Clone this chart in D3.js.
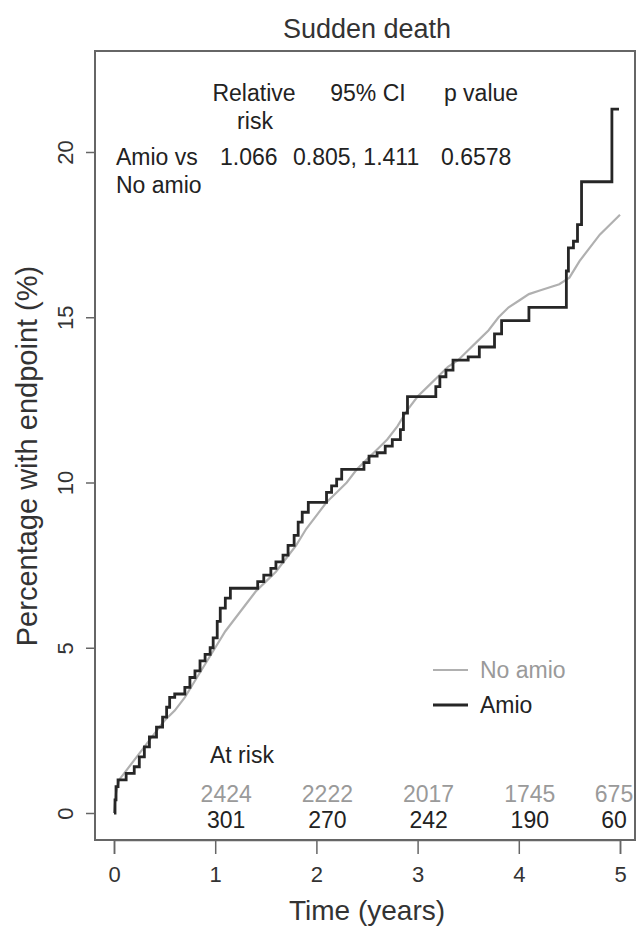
<!DOCTYPE html>
<html>
<head>
<meta charset="utf-8">
<style>
  body { margin: 0; background: #fff; }
  svg text { font-family: "Liberation Sans", Arial, sans-serif; }
</style>
<script src="https://d3js.org/d3.v7.min.js"></script>
</head>
<body>
<script>
// ---- data ----
const timeTicks = [0, 1, 2, 3, 4, 5];
const pctTicks = [0, 5, 10, 15, 20];

// No amio (grey), cumulative % with endpoint
const noAmioTime = [0, 0.02, 0.05, 0.1, 0.2, 0.3, 0.4, 0.5, 0.6, 0.7, 0.8, 0.9, 1.0, 1.1, 1.2, 1.3, 1.4, 1.5, 1.6, 1.7, 1.8, 1.9, 2.0,
  2.1, 2.2, 2.3, 2.4, 2.5, 2.6, 2.7, 2.8, 2.9, 3.0, 3.1, 3.2, 3.3, 3.4, 3.5, 3.6, 3.7, 3.8, 3.9, 4.0,
  4.1, 4.2, 4.3, 4.4, 4.5, 4.6, 4.7, 4.8, 4.9, 5.0];
const noAmioPct = [0, 0.6, 1.0, 1.2, 1.6, 2.0, 2.4, 2.8, 3.1, 3.5, 4.0, 4.5, 5.0, 5.5, 5.9, 6.3, 6.7, 7.0, 7.3, 7.7, 8.1, 8.6, 9.0,
  9.4, 9.7, 10.0, 10.4, 10.7, 11.0, 11.3, 11.7, 12.2, 12.6, 12.9, 13.2, 13.5, 13.7, 14.0, 14.3, 14.6, 15.0, 15.3, 15.5,
  15.7, 15.8, 15.9, 16.0, 16.2, 16.7, 17.1, 17.5, 17.8, 18.1];

// Amio (black)
const amioTime = [0, 0.01, 0.02, 0.04, 0.12, 0.2, 0.25, 0.3, 0.35, 0.42, 0.48, 0.52, 0.55, 0.6, 0.7, 0.75, 0.8, 0.85, 0.9, 0.95,
  0.98, 1.02, 1.05, 1.1, 1.15, 1.42, 1.48, 1.55, 1.6, 1.67, 1.72, 1.78, 1.82, 1.86, 1.92, 2.1, 2.15, 2.2, 2.25,
  2.47, 2.52, 2.6, 2.68, 2.75, 2.83, 2.86, 2.9, 3.18, 3.22, 3.28, 3.35, 3.5, 3.61, 3.76, 3.83, 4.1, 4.47, 4.49,
  4.54, 4.58, 4.62, 4.92, 4.99];
const amioPct = [0, 0.4, 0.8, 1.0, 1.2, 1.4, 1.7, 2.0, 2.3, 2.6, 2.9, 3.2, 3.5, 3.6, 3.8, 4.1, 4.3, 4.6, 4.8, 5.0,
  5.3, 5.8, 6.2, 6.5, 6.8, 7.0, 7.2, 7.4, 7.6, 7.8, 8.1, 8.4, 8.8, 9.1, 9.4, 9.7, 9.9, 10.1, 10.4,
  10.6, 10.8, 10.9, 11.1, 11.3, 11.6, 12.1, 12.6, 12.9, 13.2, 13.4, 13.7, 13.8, 14.1, 14.5, 14.9, 15.3, 16.4, 17.1,
  17.3, 17.8, 19.1, 21.3, 21.3];

const atRiskTime = [1, 2, 3, 4, 5];
const atRiskNoAmio = [2424, 2222, 2017, 1745, 675];
const atRiskAmio = [301, 270, 242, 190, 60];

const tableHead = ["Relative", "95% CI", "p value"];
const tableRow = ["Amio vs", "1.066", "0.805, 1.411", "0.6578"];

// ---- layout ----
const W = 638, H = 929;
const box = {left: 95, right: 635, top: 51, bottom: 840};
const x = d3.scaleLinear().domain([0, 5]).range([114, 620]);
const y = d3.scaleLinear().domain([0, 20]).range([813, 152]);
const grey = "#b0b0b0", dark = "#262626";

const svg = d3.select("body").append("svg")
  .attr("width", W).attr("height", H);

function label(parent, s, px, py, size, opts = {}) {
  return parent.append("text")
    .attr("x", px).attr("y", py)
    .attr("text-anchor", opts.anchor || "start")
    .attr("font-size", size)
    .attr("fill", opts.fill || "#222")
    .text(s);
}

label(svg, "Sudden death", 367, 38, 27, {anchor: "middle", fill: "#333"});

svg.append("rect")
  .attr("x", box.left).attr("y", box.top)
  .attr("width", box.right - box.left).attr("height", box.bottom - box.top)
  .attr("fill", "none").attr("stroke", "#666").attr("stroke-width", 2);

// x axis
const xAxis = d3.axisBottom(x).tickValues(timeTicks).tickSize(14).tickPadding(12).tickFormat(d3.format("d"));
const gx = svg.append("g").attr("transform", "translate(0," + box.bottom + ")").call(xAxis);
gx.select(".domain").attr("stroke", "#666").attr("stroke-width", 1.5);
gx.selectAll(".tick line").attr("stroke", "#666").attr("stroke-width", 1.5);
gx.selectAll(".tick text").attr("font-size", 22).attr("fill", "#333")
  .style("font-family", "Liberation Sans, Arial, sans-serif");

label(svg, "Time (years)", 367, 920, 28, {anchor: "middle", fill: "#333"});

// y axis
const yAxis = d3.axisLeft(y).tickValues(pctTicks).tickSize(9).tickFormat(d3.format("d"));
const gy = svg.append("g").attr("transform", "translate(" + box.left + ",0)").call(yAxis);
gy.select(".domain").remove();
gy.selectAll(".tick line").attr("stroke", "#666").attr("stroke-width", 1.5);
gy.selectAll(".tick text")
  .attr("font-size", 22).attr("fill", "#333")
  .attr("x", null)
  .attr("text-anchor", "middle")
  .attr("transform", "translate(-30,0) rotate(-90)")
  .attr("y", 0).attr("dy", "0.35em")
  .style("font-family", "Liberation Sans, Arial, sans-serif");

svg.append("text")
  .attr("transform", "translate(37,456) rotate(-90)")
  .attr("text-anchor", "middle")
  .attr("font-size", 29).attr("fill", "#333")
  .text("Percentage with endpoint (%)");

// curves: many tiny steps in the large group, so drawn as a line
const smooth = d3.line()
  .x(d => x(d[0])).y(d => y(d[1]));
const step = d3.line()
  .x(d => x(d[0])).y(d => y(d[1]))
  .curve(d3.curveStepAfter);

svg.append("path")
  .datum(noAmioTime.map((t, i) => [t, noAmioPct[i]]))
  .attr("d", smooth)
  .attr("fill", "none").attr("stroke", grey).attr("stroke-width", 2.2);

svg.append("path")
  .datum(amioTime.map((t, i) => [t, amioPct[i]]))
  .attr("d", step)
  .attr("fill", "none").attr("stroke", dark).attr("stroke-width", 2.8);

// stats table
const tbl = svg.append("g");
const headX = [254, 368, 481];
tableHead.forEach((h, i) => label(tbl, h, headX[i], 101, 23, {anchor: "middle"}));
label(tbl, "risk", 255, 129, 23, {anchor: "middle"});
const rowX = [116, 220, 293, 441];
tableRow.forEach((s, i) => label(tbl, s, rowX[i], 165, 23));
label(tbl, "No amio", 116, 193, 23);

// legend
const legend = svg.append("g");
[["No amio", grey, "#9a9a9a", 2.2, 670], ["Amio", dark, "#222", 2.8, 705]].forEach(([name, col, tcol, sw, ly]) => {
  legend.append("line").attr("x1", 433).attr("x2", 468).attr("y1", ly).attr("y2", ly)
    .attr("stroke", col).attr("stroke-width", sw);
  label(legend, name, 480, ly + 8, 23, {fill: tcol});
});

// at risk
label(svg, "At risk", 210, 763, 23);
atRiskTime.forEach((t, i) => {
  const cx = Math.min(x(t) + 11, 614);
  label(svg, atRiskNoAmio[i], cx, 802, 23, {anchor: "middle", fill: "#9a9a9a"});
  label(svg, atRiskAmio[i], cx, 828, 23, {anchor: "middle"});
});
</script>
</body>
</html>
